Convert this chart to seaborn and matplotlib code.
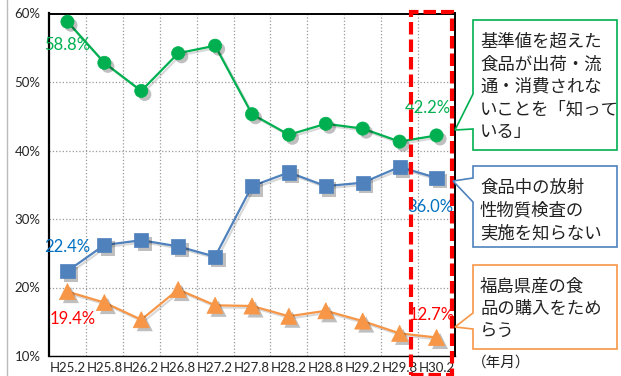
import matplotlib
matplotlib.use("Agg")
import matplotlib.pyplot as plt
import matplotlib.patheffects as pe
from matplotlib.patches import Polygon, Rectangle
from matplotlib.ticker import PercentFormatter, FixedLocator
from matplotlib.transforms import blended_transform_factory
import numpy as np
import seaborn as sns

# survey waves (年月)
periods = ["H25.2", "H25.8", "H26.2", "H26.8", "H27.2", "H27.8",
           "H28.2", "H28.8", "H29.2", "H29.8", "H30.2"]
know_standard = [58.8, 52.8, 48.7, 54.2, 55.3, 45.3, 42.3, 43.9, 43.2, 41.3, 42.2]
unaware_tests = [22.4, 26.2, 26.9, 26.0, 24.5, 34.8, 36.8, 34.8, 35.3, 37.6, 36.0]
hesitate_fukushima = [19.4, 17.8, 15.3, 19.7, 17.4, 17.3, 15.8, 16.6, 15.1, 13.3, 12.7]

callout_texts = [
    "基準値を超えた\n食品が出荷・流\n通・消費されな\nいことを「知って\nいる」",
    "食品中の放射\n性物質検査の\n実施を知らない",
    "福島県産の食\n品の購入をため\nらう",
]

GREEN = "#00B050"
BLUE = "#4F81BD"
ORANGE = "#F79646"
W, H = 621, 376

sns.set_style("white")
plt.rcParams["font.family"] = ["Lato", "Noto Sans CJK JP", "DejaVu Sans"]
JP = ["Noto Sans CJK JP", "DejaVu Sans"]

fig = plt.figure(figsize=(W / 100, H / 100), dpi=100)
ax = fig.add_axes([49 / W, 20 / H, 406 / W, 342.5 / H])

x = np.arange(len(periods))
series = [
    (know_standard, GREEN, "o", 90),
    (unaware_tests, BLUE, "s", 105),
    (hesitate_fukushima, ORANGE, "^", 135),
]
shadow_line = [pe.SimpleLineShadow(offset=(1.5, -1.5), alpha=0.15, shadow_color="k"), pe.Normal()]
shadow_patch = [pe.SimplePatchShadow(offset=(2.5, -2.5), alpha=0.25, shadow_rgbFace="k"), pe.Normal()]
for values, color, marker, size in series:
    sns.lineplot(x=x, y=values, ax=ax, color=color, linewidth=1.6,
                 path_effects=shadow_line, zorder=3)
    sns.scatterplot(x=x, y=values, ax=ax, color=color, marker=marker, s=size,
                    edgecolor=color, linewidth=0.5, path_effects=shadow_patch, zorder=4)

ax.set_xlim(-0.5, len(periods) - 0.5)
ax.set_ylim(10, 60)
ax.set_yticks(range(10, 61, 10))
ax.yaxis.set_major_formatter(PercentFormatter(decimals=0))
ax.set_xticks(x)
ax.set_xticklabels(periods)
ax.xaxis.set_minor_locator(FixedLocator(np.arange(0.5, len(periods) - 0.5, 1)))
ax.tick_params(axis="x", which="major", length=0, pad=4, labelsize=9.5)
ax.tick_params(axis="x", which="minor", length=3, direction="out", color="#555555")
ax.tick_params(axis="y", length=3, direction="out", labelsize=9.5, pad=3)
ax.grid(axis="y", which="major", linestyle=":", color="#999999", linewidth=0.9)
ax.grid(axis="x", which="minor", linestyle=":", color="#999999", linewidth=0.9)
ax.set_xlabel("")
ax.set_ylabel("")
for side, lw in [("left", 1.6), ("top", 1.4), ("right", 1.4), ("bottom", 1.0)]:
    ax.spines[side].set_visible(True)
    ax.spines[side].set_color("black")
    ax.spines[side].set_linewidth(lw)

# first / last value labels
labels = [
    (0, know_standard[0], GREEN, (0, -17)),
    (10, know_standard[-1], GREEN, (-6.5, 20)),
    (0, unaware_tests[0], "#0070C0", (0, 17)),
    (10, unaware_tests[-1], "#0070C0", (-4.5, -21)),
    (0, hesitate_fukushima[0], "#FF0000", (3.5, -20)),
    (10, hesitate_fukushima[-1], "#FF0000", (-3.5, 16)),
]
for i, v, c, off in labels:
    ax.annotate(f"{v:.1f}%", (i, v), xytext=off, textcoords="offset points",
                ha="center", va="center", color=c, fontsize=12, zorder=6)

# red dashed highlight around the latest wave
trans = blended_transform_factory(ax.transData, ax.transAxes)
ax.add_patch(Rectangle((9.32, -0.055), 1.1, 1.06, transform=trans, fill=False,
                       edgecolor="#FF0000", linewidth=3, linestyle=(0, (3, 1.2)),
                       clip_on=False, zorder=7))


def px(xp, yp):
    return (xp / W, 1 - yp / H)


# callout boxes: (top, bottom, notch_top, notch_bottom, tip)
boxes = [
    (20, 150, 94, 129, (455, 130), GREEN),
    (166, 247, 178, 202, (453, 181), BLUE),
    (265, 349, 313, 329, (455, 327), ORANGE),
]
for (top, bot, n0, n1, tip, color), txt in zip(boxes, callout_texts):
    verts = [px(473, top), px(617, top), px(617, bot), px(473, bot),
             px(473, n1), px(*tip), px(473, n0)]
    fig.patches.append(Polygon(verts, closed=True, transform=fig.transFigure,
                               facecolor="white", edgecolor=color, linewidth=1.2))
    fig.text(480 / W, 1 - (top + 13) / H, txt, ha="left", va="top", fontsize=12.5,
             family=JP, linespacing=1.32, color="#222222")

fig.text(501 / W, 1 - 363 / H, "（年月）", ha="center", va="center",
         fontsize=10.5, family=JP, color="#222222")
fig.add_artist(plt.Line2D([7 / W, 7 / W], [0, 1], transform=fig.transFigure,
                          color="#bbbbbb", linewidth=1))

fig.savefig("out.png", dpi=100)
